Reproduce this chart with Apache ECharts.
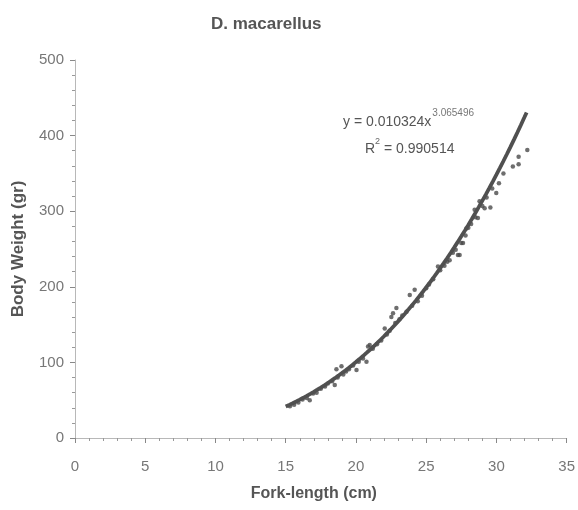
<!DOCTYPE html>
<html>
<head>
<meta charset="utf-8">
<script src="https://cdn.jsdelivr.net/npm/echarts@6/dist/echarts.min.js"></script>
<style>
  html, body { margin: 0; padding: 0; background: #ffffff; }
  #chart { width: 578px; height: 510px; }
</style>
</head>
<body>
<div id="chart"></div>
<script>
// ---- Data ----
const chartTitle = 'D. macarellus';
const xAxisTitle = 'Fork-length (cm)';
const yAxisTitle = 'Body Weight (gr)';
const xTicks = [0, 5, 10, 15, 20, 25, 30, 35];
const yTicks = [0, 100, 200, 300, 400, 500];

// observed fish: fork length (cm)
const forkLength = [
  15.3, 15.6, 15.9, 16.2, 16.5, 16.71, 16.95, 17.2, 17.5, 17.8,
  18.0, 18.3, 18.49, 18.61, 18.7, 18.97, 19.1, 19.3, 19.5, 19.8,
  20.04, 20.2, 20.5, 20.75, 20.86, 20.98, 21.2, 21.5, 21.8, 22.05,
  22.2, 22.4, 22.52, 22.64, 22.8, 22.88, 23.1, 23.3, 23.6, 23.83,
  24.0, 24.18, 24.4, 24.7, 25.0, 25.2, 25.5, 25.84, 26.0, 26.3,
  26.5, 26.67, 26.9, 27.1, 27.26, 27.38, 27.5, 27.62, 27.8, 27.86,
  28.0, 28.2, 28.45, 28.5, 28.68, 28.8, 29.0, 29.16, 29.3, 29.57,
  29.7, 29.99, 30.18, 30.5, 31.17, 31.58, 31.58, 32.2
];
// observed fish: body weight (gr)
const bodyWeight = [
  42, 44, 47, 51, 53, 50, 59, 60, 65, 68,
  72, 75, 70, 91, 80, 95, 84, 88, 91, 96,
  90, 101, 105, 101, 121, 123, 118, 124, 129, 145,
  137, 142, 160, 165, 152, 172, 157, 162, 167, 189,
  175, 196, 181, 188, 198, 203, 210, 227, 222, 228,
  233, 235, 245, 249, 242, 242, 258, 258, 268, 277,
  278, 283, 302, 292, 291, 313, 307, 304, 318, 305,
  330, 324, 337, 350, 359, 362, 372, 381
];

// fitted power trend shown on the chart: y = a * x^b
const trendCoef = 0.010324;
const trendExp = 3.065496;
const trendR2 = 0.990514;
const trendRange = [15, 32.15];

// ---- Build series ----
const points = forkLength.map((x, i) => [x, bodyWeight[i]]);
const trend = [];
for (let x = trendRange[0]; x <= trendRange[1] + 1e-9; x += 0.25) {
  trend.push([x, trendCoef * Math.pow(x, trendExp)]);
}
trend.push([trendRange[1], trendCoef * Math.pow(trendRange[1], trendExp)]);

const FONT = "'Liberation Sans', Arial, sans-serif";

// text measurement for placing superscripts
const measureCtx = document.createElement('canvas').getContext('2d');
function textWidth(str, size) {
  measureCtx.font = size + 'px ' + FONT;
  return measureCtx.measureText(str).width;
}

const eqMain = 'y = ' + trendCoef + 'x';
const eqSup = String(trendExp);
const r2Pre = 'R';
const r2Sup = '2';
const r2Post = ' = ' + trendR2;

const eqX = 343, eqY = 122;   // middle of equation line
const r2X = 365, r2Y = 149;   // middle of R² line
const mainSize = 14, supSize = 10;

const chart = echarts.init(document.getElementById('chart'), null, { renderer: 'canvas' });

function txt(str, x, y, size, color) {
  return {
    type: 'text',
    x: x,
    y: y,
    style: {
      text: str,
      fontFamily: FONT,
      fontSize: size,
      fill: color,
      align: 'left',
      verticalAlign: 'middle'
    },
    z: 10
  };
}

const wEq = textWidth(eqMain, mainSize);
const wR = textWidth(r2Pre, mainSize);
const wR2sup = textWidth(r2Sup, 9);

chart.setOption({
  backgroundColor: '#ffffff',
  animation: false,
  title: {
    text: chartTitle,
    left: 206,
    top: 11,
    textStyle: { fontFamily: FONT, fontSize: 17, fontWeight: 'bold', color: '#555' }
  },
  grid: { left: 75, right: 11, top: 60, bottom: 72 },
  xAxis: {
    type: 'value',
    min: xTicks[0],
    max: xTicks[xTicks.length - 1],
    interval: 5,
    name: xAxisTitle,
    nameLocation: 'middle',
    nameGap: 48,
    nameTextStyle: { fontFamily: FONT, fontSize: 16, fontWeight: 'bold', color: '#555', padding: [0, 14, 0, 0] },
    axisLine: { show: true, lineStyle: { color: '#b8b8b8', width: 1 } },
    axisTick: { show: true, length: 5, lineStyle: { color: '#888' } },
    minorTick: { show: true, splitNumber: 5, length: 3, lineStyle: { color: '#999' } },
    splitLine: { show: false },
    axisLabel: { fontFamily: FONT, fontSize: 15, color: '#777', margin: 21 }
  },
  yAxis: {
    type: 'value',
    min: yTicks[0],
    max: yTicks[yTicks.length - 1],
    interval: 100,
    name: yAxisTitle,
    nameLocation: 'middle',
    nameGap: 48,
    nameTextStyle: { fontFamily: FONT, fontSize: 17, fontWeight: 'bold', color: '#555' },
    axisLine: { show: true, lineStyle: { color: '#b8b8b8', width: 1 } },
    axisTick: { show: true, length: 5, lineStyle: { color: '#888' } },
    minorTick: { show: true, splitNumber: 5, length: 3, lineStyle: { color: '#999' } },
    splitLine: { show: false },
    axisLabel: { fontFamily: FONT, fontSize: 15, color: '#777', margin: 11 }
  },
  series: [
    {
      name: 'Observed',
      type: 'scatter',
      data: points,
      symbol: 'circle',
      symbolSize: 4.5,
      itemStyle: { color: '#4a4a4a' },
      z: 2
    },
    {
      name: 'Power trend',
      type: 'line',
      data: trend,
      showSymbol: false,
      smooth: false,
      lineStyle: { color: '#505050', width: 3.8 },
      z: 3
    }
  ],
  graphic: [
    txt(eqMain, eqX, eqY, mainSize, '#555'),
    txt(eqSup, eqX + wEq + 1, eqY - 9, supSize, '#777'),
    txt(r2Pre, r2X, r2Y, mainSize, '#555'),
    txt(r2Sup, r2X + wR, r2Y - 7, 9, '#666'),
    txt(r2Post, r2X + wR + wR2sup, r2Y, mainSize, '#555')
  ]
});
</script>
</body>
</html>
